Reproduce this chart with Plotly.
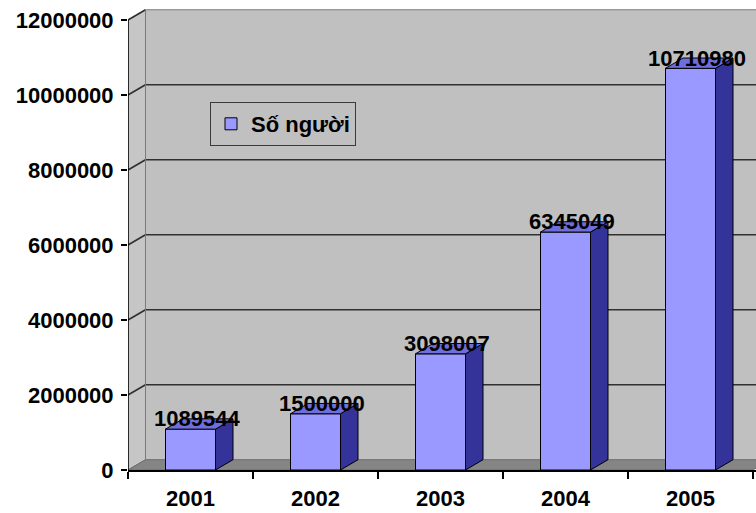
import plotly.graph_objects as go

# Số người dùng theo năm
years = ["2001", "2002", "2003", "2004", "2005"]
so_nguoi = [1089544, 1500000, 3098007, 6345049, 10710980]
y_ticks = [0, 2000000, 4000000, 6000000, 8000000, 10000000, 12000000]
y_tick_text = ["0", "2000000", "4000000", "6000000", "8000000", "10000000", "12000000"]
series_name = "Số người"

# Pseudo-3D styling
DX = 0.14         # depth offset along x, in category units
DY = 275000       # depth offset along y, in value units
HALF = 0.2        # half of the bar width
FRONT = "#9999FF"
SIDE = "#333399"
TOP = "#6E6EDC"
WALL = "#C0C0C0"
SIDE_WALL = "#C6C6C6"
FLOOR = "#858585"
GRID = "#303030"
FONT = "Liberation Sans"

W, H = 756, 513
ML, MR, MT, MB = 128, 0, 0, 43
PX_PER_CAT = 125
PX_PLOT_H = H - MT - MB

x = list(range(len(years)))
x_lo, x_hi = -0.5, len(years) - 0.5
y_top = y_ticks[-1]
x_range = [x_lo, x_lo + (W - ML - MR) / PX_PER_CAT]
y_range = [0, y_top * PX_PLOT_H / (PX_PLOT_H - 20)]

fig = go.Figure()

# Front faces of the bars
fig.add_trace(go.Bar(
    x=x, y=so_nguoi, width=2 * HALF, name=series_name,
    marker=dict(color=FRONT, line=dict(color="black", width=1)),
    hoverinfo="skip",
))

# Side and top faces of each bar
for xi, v in zip(x, so_nguoi):
    fig.add_trace(go.Scatter(
        x=[xi + HALF, xi + HALF + DX, xi + HALF + DX, xi + HALF, xi + HALF],
        y=[0, DY, v + DY, v, 0],
        fill="toself", fillcolor=SIDE, mode="lines",
        line=dict(color="black", width=1), showlegend=False, hoverinfo="skip",
    ))
    fig.add_trace(go.Scatter(
        x=[xi - HALF, xi + HALF, xi + HALF + DX, xi - HALF + DX, xi - HALF],
        y=[v, v, v + DY, v + DY, v],
        fill="toself", fillcolor=TOP, mode="lines",
        line=dict(color="black", width=1), showlegend=False, hoverinfo="skip",
    ))

shapes = []


def poly(pts, fill, line_color=None, width=0):
    path = "M " + " L ".join(f"{px},{py}" for px, py in pts) + " Z"
    return dict(type="path", path=path, xref="x", yref="y", layer="below",
                fillcolor=fill,
                line=dict(color=line_color or fill, width=width))


# Back wall, side wall and floor
shapes.append(poly([(x_lo + DX, DY), (x_hi + DX + 1, DY),
                    (x_hi + DX + 1, y_top + DY), (x_lo + DX, y_top + DY)], WALL))
shapes.append(poly([(x_lo, 0), (x_lo + DX, DY), (x_lo + DX, y_top + DY),
                    (x_lo, y_top)], SIDE_WALL, "#8a8a8a", 1))
shapes.append(poly([(x_lo, 0), (x_lo + DX, DY), (x_hi + DX, DY), (x_hi, 0)],
                   FLOOR, "#6a6a6a", 1))

# Gridlines on the back wall and their continuation on the side wall
for v in y_ticks[1:]:
    col = GRID if v < y_top else "#9a9a9a"
    shapes.append(dict(type="line", xref="x", yref="y", layer="below",
                       x0=x_lo, y0=v, x1=x_lo + DX, y1=v + DY,
                       line=dict(color=GRID, width=1.6)))
    shapes.append(dict(type="line", xref="x", yref="y", layer="below",
                       x0=x_lo + DX, y0=v + DY, x1=x_hi + DX + 1, y1=v + DY,
                       line=dict(color=col, width=1.6)))

# Corner edge of the back wall
shapes.append(dict(type="line", xref="x", yref="y", layer="below",
                   x0=x_lo + DX, y0=DY, x1=x_lo + DX, y1=y_top + DY,
                   line=dict(color="#7a7a7a", width=1)))

# Value axis line
shapes.append(dict(type="line", xref="x", yref="y",
                   x0=x_lo, y0=0, x1=x_lo, y1=y_top,
                   line=dict(color="black", width=1.5)))

# Data labels
annotations = [
    dict(x=xi + 0.05, y=v + DY, text=str(v), showarrow=False,
         xanchor="center", yanchor="middle",
         font=dict(family=FONT, size=22, color="black", weight="bold"))
    for xi, v in zip(x, so_nguoi)
]

fig.update_layout(
    width=W, height=H,
    margin=dict(l=ML, r=MR, t=MT, b=MB, pad=0),
    paper_bgcolor="white", plot_bgcolor="white",
    barmode="overlay",
    shapes=shapes,
    annotations=annotations,
    font=dict(family=FONT, color="black"),
    showlegend=True,
    legend=dict(
        x=(210 - ML) / (W - ML - MR), y=(H - MB - 102) / PX_PLOT_H,
        xanchor="left", yanchor="top",
        bgcolor=WALL, bordercolor="#3a3a3a", borderwidth=1,
        font=dict(family=FONT, size=22, color="black", weight="bold"),
        itemwidth=30,
    ),
    xaxis=dict(
        range=x_range, tickmode="array", tickvals=x, ticktext=years,
        ticks="", showgrid=False, zeroline=False,
        showline=True, linecolor="black", linewidth=1.5,
        ticklabelstandoff=8,
        tickfont=dict(family=FONT, size=22, color="black", weight="bold"),
        minor=dict(tickmode="array",
                   tickvals=[i - 0.5 for i in range(len(years) + 1)],
                   ticks="outside", ticklen=7, tickcolor="black", tickwidth=1.5,
                   showgrid=False),
    ),
    yaxis=dict(
        range=y_range, tickmode="array", tickvals=y_ticks, ticktext=y_tick_text,
        ticks="outside", ticklen=6, tickcolor="black", tickwidth=1.5,
        ticklabelstandoff=3,
        showgrid=False, zeroline=False, showline=False,
        tickfont=dict(family=FONT, size=22, color="black", weight="bold"),
    ),
)

fig.write_html("out.html")
